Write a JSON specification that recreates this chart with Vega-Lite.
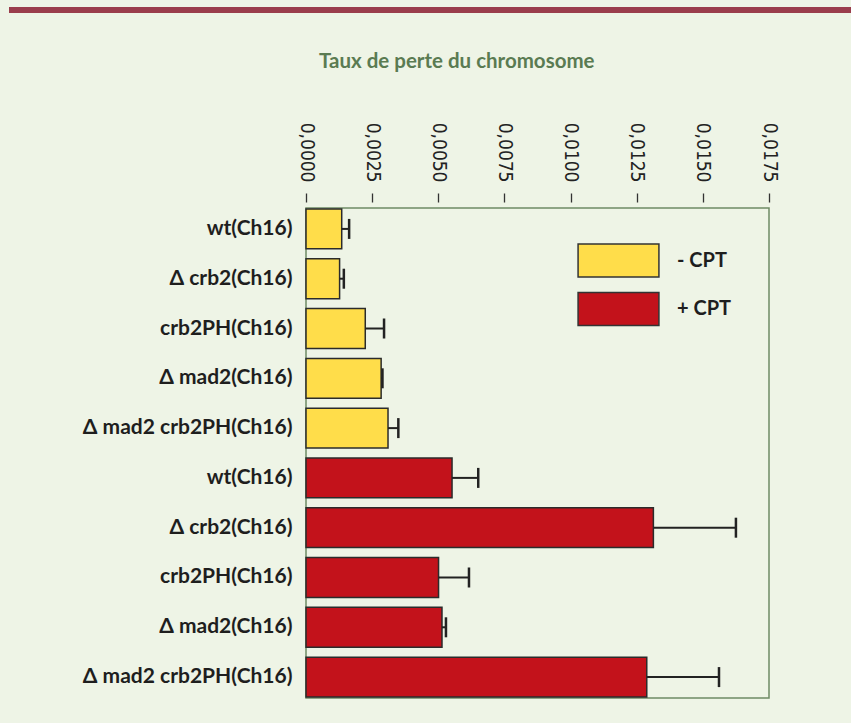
{
  "$schema": "https://vega.github.io/schema/vega-lite/v6.json",
  "background": "#eef4e6",
  "padding": {"left": 6, "top": 7, "right": 0, "bottom": 26},
  "columns": 1,
  "spacing": 37,
  "concat": [
    {
      "width": 545,
      "height": 6,
      "view": {"stroke": null},
      "data": {"values": [{"lo": 0, "hi": 1}]},
      "mark": {"type": "rect", "color": "#9a3d4c"},
      "encoding": {
        "y": {
          "field": "lo",
          "type": "quantitative",
          "title": null,
          "scale": {"domain": [0, 1], "nice": false},
          "axis": {
            "values": [0.5],
            "labels": false,
            "domain": false,
            "grid": false,
            "ticks": true,
            "tickSize": 297,
            "tickWidth": 6,
            "tickColor": "#9a3d4c",
            "tickOpacity": 1,
            "translate": 0
          }
        },
        "y2": {"field": "hi"}
      }
    },
    {
      "width": 463,
      "height": 490,
      "view": {"stroke": "#6f8b66", "strokeWidth": 1.5},
      "title": {
        "text": "Taux de perte du chromosome",
        "anchor": "start",
        "frame": "group",
        "dx": 13,
        "offset": 50,
        "font": "Lato",
        "fontSize": 20.5,
        "fontWeight": "bold",
        "color": "#5a7b52"
      },
      "data": {
        "values": [
          {"key": "01|wt(Ch16)", "cpt": "- CPT", "value": 0.00135, "upper": 0.00163},
          {"key": "02|Δ crb2(Ch16)", "cpt": "- CPT", "value": 0.00127, "upper": 0.00143},
          {"key": "03|crb2PH(Ch16)", "cpt": "- CPT", "value": 0.00224, "upper": 0.00295},
          {"key": "04|Δ mad2(Ch16)", "cpt": "- CPT", "value": 0.00284, "upper": 0.00289},
          {"key": "05|Δ mad2 crb2PH(Ch16)", "cpt": "- CPT", "value": 0.0031, "upper": 0.00349},
          {"key": "06|wt(Ch16)", "cpt": "+ CPT", "value": 0.00552, "upper": 0.00651},
          {"key": "07|Δ crb2(Ch16)", "cpt": "+ CPT", "value": 0.01313, "upper": 0.01625},
          {"key": "08|crb2PH(Ch16)", "cpt": "+ CPT", "value": 0.00501, "upper": 0.00616},
          {"key": "09|Δ mad2(Ch16)", "cpt": "+ CPT", "value": 0.00514, "upper": 0.00529},
          {"key": "10|Δ mad2 crb2PH(Ch16)", "cpt": "+ CPT", "value": 0.01288, "upper": 0.01561}
        ]
      },
      "encoding": {
        "y": {
          "field": "key",
          "type": "nominal",
          "sort": null,
          "title": null,
          "scale": {"paddingInner": 0.2, "paddingOuter": 0.02},
          "axis": {
            "labelExpr": "split(datum.value, '|')[1]",
            "labelFont": "Lato",
            "labelFontWeight": "bold",
            "labelFontSize": 21,
            "labelColor": "#1e1e1e",
            "labelPadding": 14,
            "labelLimit": 400,
            "ticks": false,
            "domain": false,
            "minExtent": 297,
            "maxExtent": 297
          }
        }
      },
      "layer": [
        {
          "mark": {"type": "bar", "stroke": "#2b2b2b", "strokeWidth": 1.5},
          "encoding": {
            "x": {
              "field": "value",
              "type": "quantitative",
              "title": null,
              "scale": {"domain": [0, 0.0175], "nice": false, "zero": true},
              "axis": {
                "orient": "top",
                "values": [0, 0.0025, 0.005, 0.0075, 0.01, 0.0125, 0.015, 0.0175],
                "labelExpr": "replace(format(datum.value, '.4f'), '.', ',')",
                "labelAngle": 90,
                "labelAlign": "right",
                "labelBaseline": "middle",
                "labelFont": "DejaVu Sans Condensed",
                "labelFontSize": 19,
                "labelColor": "#222222",
                "labelPadding": 11,
                "labelFlush": false,
                "labelOverlap": false,
                "tickSize": 9,
                "tickWidth": 1.3,
                "tickColor": "#333333",
                "domain": false,
                "grid": false,
                "offset": 6
              }
            },
            "color": {
              "field": "cpt",
              "type": "nominal",
              "scale": {"domain": ["- CPT", "+ CPT"], "range": ["#ffdd4a", "#c3121b"]},
              "legend": {
                "title": null,
                "orient": "none",
                "legendX": 295,
                "legendY": 236,
                "padding": 0,
                "symbolType": "M-2.45,-1H2.45V1H-2.45Z",
                "symbolSize": 1089,
                "symbolStrokeColor": "#333333",
                "symbolStrokeWidth": 1.5,
                "symbolOpacity": 1,
                "labelFont": "Lato",
                "labelFontWeight": "bold",
                "labelFontSize": 20,
                "labelColor": "#1e1e1e",
                "labelOffset": 41,
                "rowPadding": 9.5
              }
            }
          }
        },
        {
          "mark": {"type": "rule", "color": "#222222", "strokeWidth": 2},
          "encoding": {
            "x": {"field": "value", "type": "quantitative", "title": null},
            "x2": {"field": "upper"}
          }
        },
        {
          "mark": {"type": "tick", "color": "#222222", "thickness": 2.5, "size": 20, "opacity": 1},
          "encoding": {
            "x": {"field": "upper", "type": "quantitative", "title": null}
          }
        }
      ]
    }
  ]
}
